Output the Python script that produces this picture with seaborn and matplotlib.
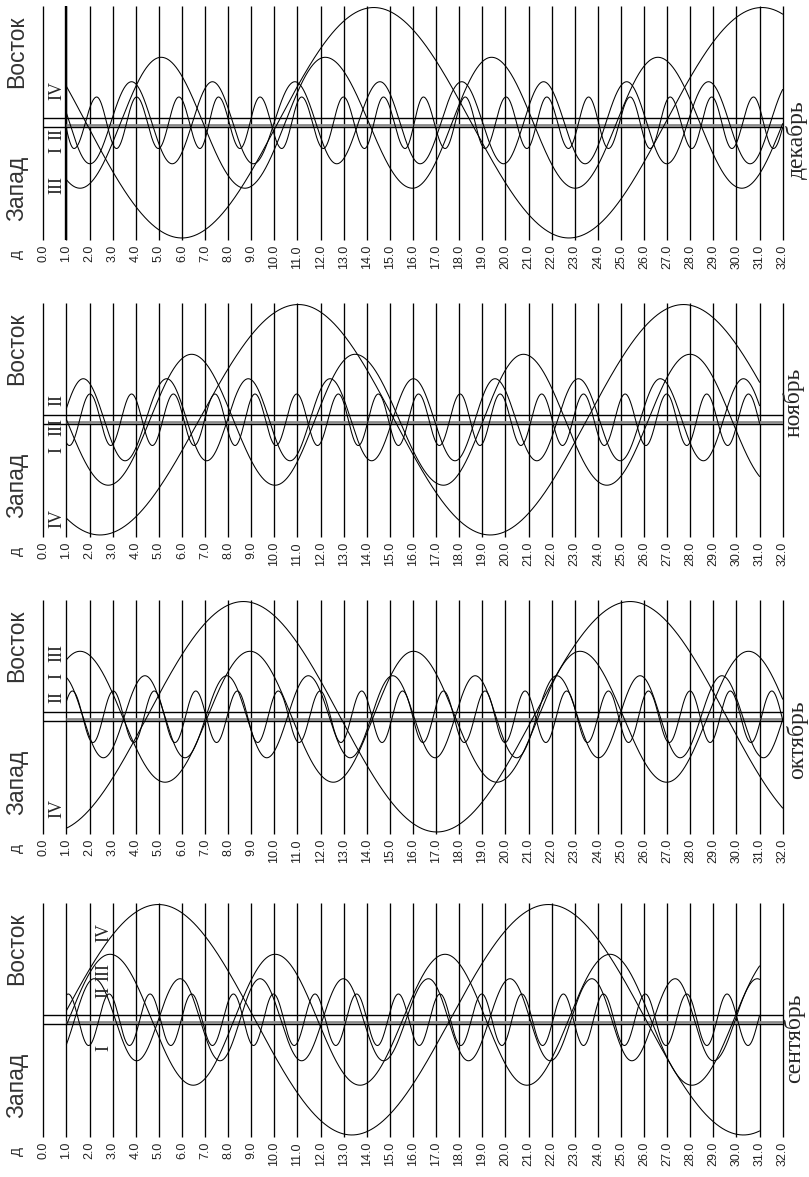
import numpy as np
import matplotlib
matplotlib.use("Agg")
import matplotlib.pyplot as plt
import seaborn as sns
import pandas as pd

sns.set_style("white")
plt.rcParams["font.family"] = ["Liberation Sans", "DejaVu Sans"]

W, H = 809, 1177

# ---------------- data ----------------
DAYS = list(range(0, 33))
TICK_LABELS = ["0.0", "1.0", "2.0", "3.0", "4.0", "5.0", "6.0", "7.0", "8.0", "9.0",
               "10.0", "11.0", "12.0", "13.0", "14.0", "15.0", "16.0", "17.0", "18.0",
               "19.0", "20.0", "21.0", "22.0", "23.0", "24.0", "25.0", "26.0", "27.0",
               "28.0", "29.0", "30.0", "31.0", "32.0"]
MONTHS = ["декабрь", "ноябрь", "октябрь", "сентябрь"]
MONTH_END = [32, 31, 32, 31]
MOONS = ["I", "II", "III", "IV"]
RADIUS = [5.9, 9.4, 15.0, 26.4]          # orbital radius, Jupiter radii

# elongation days: E = east (top), W = west (bottom)
DEC_I_E = [0.55, 2.31, 4.04, 5.87, 7.58, 9.38, 11.18, 12.99, 14.72, 16.45, 18.26, 20.03,
           21.79, 23.6, 25.4, 27.13, 28.93, 30.74, 32.5]
DEC_I_W = [1.33, 3.17, 4.98, 6.78, 8.51, 10.32, 12.12, 13.9, 15.66, 17.39, 19.12, 20.93,
           22.73, 24.46, 26.26, 28.07, 29.8, 31.6]
DEC_II_E = [0.25, 3.82, 7.32, 10.89, 14.57, 18.11, 21.65, 25.25, 28.79, 32.35]
DEC_II_W = [2.02, 5.58, 9.09, 12.7, 16.31, 19.92, 23.45, 26.98, 30.59]
DEC_III_E = [-2.0, 5.1, 12.2, 19.4, 26.6, 33.8]
DEC_III_W = [1.59, 8.73, 15.98, 23.02, 30.23]
DEC_IV_E = [-2.3, 14.3, 31.1]
DEC_IV_W = [6.0, 22.75, 39.4]

NOV_I_E = [0.25, 2.02, 3.82, 5.63, 7.43, 9.16, 10.97, 12.77, 14.5, 16.24, 18.04, 19.77,
           21.57, 23.38, 25.18, 26.98, 28.71, 30.52, 32.3]
NOV_I_W = [1.13, 2.92, 4.72, 6.53, 8.3, 10.07, 11.87, 13.63, 15.37, 17.14, 18.9, 20.67,
           22.47, 24.28, 26.08, 27.85, 29.62, 31.4]
NOV_II_E = [1.73, 5.34, 8.87, 12.41, 16.02, 19.55, 23.16, 26.7, 30.3]
NOV_II_W = [-0.05, 3.54, 7.07, 10.68, 14.21, 17.82, 21.36, 24.97, 28.57, 32.1]
NOV_III_E = [-0.8, 6.42, 13.49, 20.78, 27.99]
NOV_III_W = [2.81, 10.03, 17.32, 24.39, 31.6]
NOV_IV_E = [-5.9, 11.04, 27.71]
NOV_IV_W = [2.45, 19.34, 36.05]

OCT_I_E = [1.26, 3.03, 4.8, 6.6, 8.4, 10.17, 11.98, 13.78, 15.55, 17.32, 19.12, 20.85,
           22.65, 24.46, 26.19, 27.99, 29.73, 31.53]
OCT_I_W = [0.38, 2.15, 3.92, 5.7, 7.5, 9.28, 11.07, 12.88, 14.66, 16.43, 18.22, 19.98,
           21.75, 23.55, 25.33, 27.09, 28.86, 30.63, 32.4]
OCT_II_E = [0.83, 4.4, 7.94, 11.47, 15.12, 18.69, 22.22, 25.83, 29.37, 32.9]
OCT_II_W = [2.6, 6.13, 9.67, 13.28, 16.96, 20.49, 24.03, 27.56, 31.17]
OCT_III_E = [1.59, 8.95, 16.02, 23.23, 30.52]
OCT_III_W = [-2.0, 5.27, 12.55, 19.63, 26.98, 34.1]
OCT_IV_E = [8.66, 25.4]
OCT_IV_W = [0.32, 17.03, 33.74]

SEP_I_E = [1.08, 2.85, 4.62, 6.42, 8.23, 9.96, 11.76, 13.56, 15.37, 17.17, 18.98, 20.71,
           22.51, 24.24, 26.05, 27.85, 29.59, 31.4]
SEP_I_W = [0.2, 1.96, 3.73, 5.52, 7.32, 9.1, 10.86, 12.66, 14.46, 16.27, 18.07, 19.85,
           21.61, 23.38, 25.15, 26.95, 28.72, 30.5]
SEP_II_E = [2.2, 5.92, 9.38, 12.99, 16.67, 20.2, 23.74, 27.35, 30.9]
SEP_II_W = [0.5, 4.04, 7.65, 11.18, 14.72, 18.4, 21.94, 25.47, 29.0, 32.6]
SEP_III_E = [2.89, 10.03, 17.39, 24.53, 31.7]
SEP_III_W = [-0.7, 6.49, 13.71, 20.93, 28.07]
SEP_IV_E = [4.98, 21.86]
SEP_IV_W = [-3.4, 13.35, 30.3, 38.6]

ELONG = {
    "декабрь": [(DEC_I_E, DEC_I_W), (DEC_II_E, DEC_II_W), (DEC_III_E, DEC_III_W), (DEC_IV_E, DEC_IV_W)],
    "ноябрь": [(NOV_I_E, NOV_I_W), (NOV_II_E, NOV_II_W), (NOV_III_E, NOV_III_W), (NOV_IV_E, NOV_IV_W)],
    "октябрь": [(OCT_I_E, OCT_I_W), (OCT_II_E, OCT_II_W), (OCT_III_E, OCT_III_W), (OCT_IV_E, OCT_IV_W)],
    "сентябрь": [(SEP_I_E, SEP_I_W), (SEP_II_E, SEP_II_W), (SEP_III_E, SEP_III_W), (SEP_IV_E, SEP_IV_W)],
}

# ---------------- layout (pixels) ----------------
LEFT_PX, RIGHT_PX = 43.3, 782.7
PANEL_TOP = [6, 303, 600, 903]
PANEL_H = 233.5
YLIM = 26.75

# roman numeral labels: (text, x_px, y_px)
ROMAN = [
    [("IV", 57, 90), ("II", 57, 134), ("I", 57, 150), ("III", 57, 185)],
    [("II", 57, 400), ("III", 57, 427), ("I", 57, 450), ("IV", 57, 518)],
    [("III", 57, 653), ("I", 57, 676), ("II", 57, 697), ("IV", 57, 808)],
    [("IV", 104, 933), ("III", 104, 972), ("II", 104, 992), ("I", 104, 1048)],
]
MONTH_POS = [(797, 140), (794, 402), (797, 740), (794, 1038)]


def curve(east, west, amp, t0, t1):
    ext = sorted([(t, 1.0) for t in east] + [(t, -1.0) for t in west])
    tt = np.linspace(t0, t1, 3000)
    yy = np.zeros_like(tt)
    for (ta, sa), (tb, sb) in zip(ext[:-1], ext[1:]):
        m = (tt >= ta) & (tt <= tb)
        yy[m] = sa * amp * np.cos(np.pi * (tt[m] - ta) / (tb - ta))
    return tt, yy


fig = plt.figure(figsize=(W / 100, H / 100), dpi=100)

for i, month in enumerate(MONTHS):
    top = PANEL_TOP[i]
    ax = fig.add_axes([LEFT_PX / W, 1 - (top + PANEL_H) / H,
                       (RIGHT_PX - LEFT_PX) / W, PANEL_H / H])
    ax.set_xlim(0, 32)
    ax.set_ylim(-YLIM, YLIM)
    for s in ax.spines.values():
        s.set_visible(False)
    ax.set_yticks([])
    ax.set_xticks(DAYS)
    ax.set_xticklabels(TICK_LABELS, rotation=90, fontsize=9, color="#222222")
    ax.tick_params(axis="x", length=0, pad=4)
    ax.grid(False)
    # day lines
    ax.vlines(DAYS, -YLIM, YLIM, color="black", lw=0.95, clip_on=False, zorder=1)
    if i == 0:
        ax.vlines([1], -YLIM, YLIM, color="black", lw=1.7, clip_on=False, zorder=1)
    # Jupiter's disk band
    ax.hlines([1.0, -1.0], 0, 32, color="black", lw=1.0, zorder=3)
    ax.hlines([-0.45], 1, 32, color="#8a8a8a", lw=2.0, zorder=3)
    # moons
    for k, moon in enumerate(MOONS):
        east, west = ELONG[month][k]
        tt, yy = curve(east, west, RADIUS[k], 1, MONTH_END[i])
        df = pd.DataFrame({"day": tt, "pos": yy})
        sns.lineplot(data=df, x="day", y="pos", ax=ax, color="black", lw=0.75,
                     sort=False, estimator=None, zorder=4)
    ax.set_xlabel("")
    ax.set_ylabel("")

    # texts
    fig.text(17 / W, 1 - (top + 46) / H, "Восток", rotation=90, fontsize=16.5,
             ha="center", va="center", color="#333333")
    fig.text(17 / W, 1 - (top + 182) / H, "Запад", rotation=90, fontsize=16.5,
             ha="center", va="center", color="#333333")
    fig.text(18 / W, 1 - (top + PANEL_H + 15) / H, "Д", rotation=90, fontsize=9.5,
             ha="center", va="center", color="#222222")
    mx, my = MONTH_POS[i]
    fig.text(mx / W, 1 - my / H, month, rotation=90, fontsize=17,
             family=["Liberation Serif", "DejaVu Serif"], ha="center", va="center")
    for txt, rx, ry in ROMAN[i]:
        fig.text(rx / W, 1 - ry / H, txt, rotation=90, fontsize=13,
                 family=["Liberation Serif", "DejaVu Serif"], ha="center", va="center")

fig.savefig("out.png", dpi=100, facecolor="white")
